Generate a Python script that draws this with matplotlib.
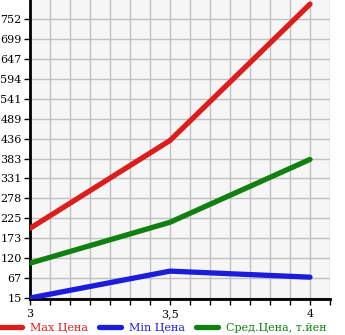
import matplotlib
matplotlib.use("Agg")
import matplotlib.pyplot as plt
import numpy as np
from matplotlib.ticker import MultipleLocator, FixedLocator

x = [3, 3.5, 4]
max_price = [199, 431, 791]
min_price = [15, 86, 70]
avg_price = [107, 215, 381]
yticks = [15, 67, 120, 173, 225, 278, 331, 383, 436, 489, 541, 594, 647, 699, 752]
xtick_vals = [3, 3.5, 4]
xtick_labels = ["3", "3,5", "4"]
labels = ["Max Цена", "Min Цена", "Сред.Цена, т.йен"]
colors = ["#dd1c1c", "#1c1cdd", "#108010"]

plt.rcParams['font.family'] = ['DejaVu Serif']
fig = plt.figure(figsize=(3.45, 3.35), dpi=100)
ax = fig.add_axes([30/345, 36/335, 300/345, 299/335])
ax.set_facecolor("#f6f6f6")

step = (752 - 15) / 14
ax.set_ylim(15 - step * 0.05, 15 + step * 14.95)
ax.set_xlim(3, 4 + 0.5 / 7)

for vals, c, lab in zip([max_price, min_price, avg_price], colors, labels):
    ax.plot(x, vals, color=c, lw=3.8, solid_capstyle='round', label=lab, zorder=3)

ax.yaxis.set_major_locator(FixedLocator(yticks))
ax.set_yticklabels([str(v) for v in yticks])
ax.xaxis.set_major_locator(FixedLocator(xtick_vals))
ax.set_xticklabels(xtick_labels)
ax.xaxis.set_minor_locator(MultipleLocator(0.5 / 7))
ax.grid(True, which='both', axis='x', color="#c0c0c0", lw=1)
ax.grid(True, which='major', axis='y', color="#c0c0c0", lw=1)
ax.tick_params(axis='both', which='both', direction='out', length=4, width=1, labelsize=8, color='black')
ax.tick_params(axis='y', pad=2)
ax.tick_params(axis='x', pad=3)
for s in ['top', 'right']:
    ax.spines[s].set_visible(False)
for s in ['left', 'bottom']:
    ax.spines[s].set_linewidth(2)
    ax.spines[s].set_color('black')
ax.set_axisbelow(True)

leg = fig.legend(loc='center left', bbox_to_anchor=(0.0, 1 - 328/335), ncol=3, frameon=False,
                 fontsize=8, handlelength=2.0, handletextpad=0.7, columnspacing=1.0,
                 borderpad=0, borderaxespad=0, labelcolor='linecolor')
fig.savefig("out.png", dpi=100)
